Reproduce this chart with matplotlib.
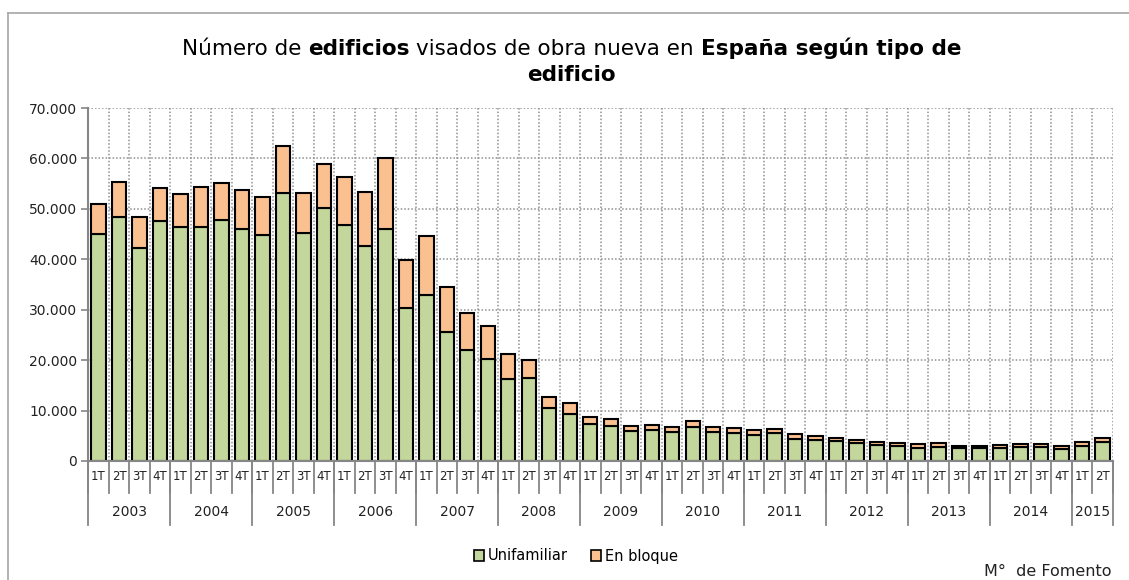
import matplotlib
matplotlib.use("Agg")
import matplotlib.pyplot as plt
import matplotlib.transforms as mtransforms
from matplotlib.lines import Line2D
from matplotlib.patches import Patch
from matplotlib.ticker import FuncFormatter
import numpy as np

# Datos: edificios visados de obra nueva por trimestre (2003 1T - 2015 2T)
anios = ["2003", "2004", "2005", "2006", "2007", "2008", "2009",
         "2010", "2011", "2012", "2013", "2014", "2015"]
trimestres_por_anio = [4, 4, 4, 4, 4, 4, 4, 4, 4, 4, 4, 4, 2]
trimestres = ["1T", "2T", "3T", "4T"]

unifamiliar = [45100, 48400, 42300, 47500, 46500, 46400, 47700, 46000,
               44800, 53200, 45200, 50100, 46800, 42600, 46000, 30400,
               33000, 25500, 22100, 20300, 16300, 16400, 10500, 9400,
               7400, 7000, 6000, 6200, 5800, 6700, 5800, 5600,
               5100, 5500, 4400, 4200, 4000, 3600, 3100, 3000,
               2500, 2800, 2500, 2500, 2600, 2800, 2800, 2400,
               3000, 3700]
en_bloque = [5900, 6900, 6100, 6700, 6500, 8000, 7400, 7700,
             7600, 9300, 8000, 8700, 9500, 10800, 14100, 9500,
             11600, 9100, 7300, 6500, 4900, 3700, 2200, 2200,
             1300, 1300, 1000, 900, 1000, 1200, 900, 1000,
             1000, 900, 1000, 800, 600, 600, 600, 600,
             800, 700, 500, 500, 600, 600, 600, 600,
             800, 900]

VERDE = "#C3D69B"
NARANJA = "#FAC090"
GRIS = "#868686"
W, H = 1129, 580

plt.rcParams["font.family"] = ["DejaVu Sans"]

fig = plt.figure(figsize=(W / 100, H / 100), dpi=100)
ax = fig.add_axes([88.3 / W, 1 - 461 / H, 1024.4 / W, 353 / H])

n = len(unifamiliar)
x = np.arange(n)
ax.bar(x, unifamiliar, width=0.7, color=VERDE, edgecolor="black", linewidth=1.5, zorder=3)
ax.bar(x, en_bloque, bottom=unifamiliar, width=0.7, color=NARANJA,
       edgecolor="black", linewidth=1.5, zorder=3)

ax.set_xlim(-0.5, n - 0.5)
ax.set_ylim(0, 70000)
ax.set_yticks(range(0, 70001, 10000))
ax.yaxis.set_major_formatter(FuncFormatter(lambda v, p: f"{int(v):,}".replace(",", ".")))
ax.tick_params(axis="y", length=5, width=1.2, color=GRIS, labelsize=10, pad=3, labelcolor="#222222")
ax.set_xticks([])
for s in ["top", "right"]:
    ax.spines[s].set_visible(False)
for s in ["left", "bottom"]:
    ax.spines[s].set_color(GRIS)
    ax.spines[s].set_linewidth(1.5)
    ax.spines[s].set_zorder(4)

# rejilla punteada
punteado = (0, (1, 1.3))
for v in range(10000, 70001, 10000):
    ax.axhline(v, color="#8f8f8f", linestyle=punteado, linewidth=1.1, zorder=1)
for b in np.arange(0.5, n, 1):
    ax.axvline(b, color="#8f8f8f", linestyle=punteado, linewidth=1.1, zorder=1)

# eje x de dos niveles
trans = mtransforms.blended_transform_factory(ax.transData, ax.transAxes)
for i in range(n):
    ax.text(i, -0.045, trimestres[i % 4], transform=trans, ha="center", va="center",
            fontsize=8.5, color="#222222")
for b in np.arange(-0.5, n, 1):
    ax.plot([b, b], [0, -0.0907], transform=trans, color=GRIS, lw=1.3, clip_on=False)
inicio = 0
for anio, k in zip(anios, trimestres_por_anio):
    ax.plot([inicio - 0.5, inicio - 0.5], [0, -0.181], transform=trans, color=GRIS, lw=1.3, clip_on=False)
    ax.text(inicio + (k - 1) / 2, -0.144, anio, transform=trans, ha="center", va="center",
            fontsize=10, color="#222222")
    inicio += k
ax.plot([n - 0.5, n - 0.5], [0, -0.181], transform=trans, color=GRIS, lw=1.3, clip_on=False)

# leyenda
manejadores = [Patch(facecolor=VERDE, edgecolor="black", linewidth=1.2),
               Patch(facecolor=NARANJA, edgecolor="black", linewidth=1.2)]
fig.legend(manejadores, ["Unifamiliar", "En bloque"], loc="center",
           bbox_to_anchor=(576 / W, 1 - 556 / H), ncol=2, frameon=False, fontsize=10.5,
           handlelength=0.7, handleheight=0.7, handletextpad=0.25, columnspacing=1.6)

fig.text(1111 / W, 1 - 571 / H, "M°  de Fomento", ha="right", va="center", fontsize=11.5, color="#222222")

# marco del grafico
fig.add_artist(Line2D([7.5 / W, 7.5 / W], [0, 1 - 13 / H], transform=fig.transFigure,
                      color="#a6a6a6", lw=1.2))
fig.add_artist(Line2D([7.5 / W, 1], [1 - 13 / H, 1 - 13 / H], transform=fig.transFigure,
                      color="#a6a6a6", lw=1.2))

# titulo con partes en negrita
fig.canvas.draw()
rend = fig.canvas.get_renderer()


def ancho(texto, peso, fs):
    t = fig.text(0, 0, texto, fontsize=fs, fontweight=peso)
    w = t.get_window_extent(rend).width
    t.remove()
    return w


def linea_titulo(partes, centro_x, base_y, fs):
    anchos = [ancho(t, p, fs) for t, p in partes]
    esp = ancho("n n", "normal", fs) - ancho("nn", "normal", fs)
    total = sum(anchos) + esp * (len(partes) - 1)
    xx = centro_x - total / 2
    for (t, p), w in zip(partes, anchos):
        fig.text(xx / W, 1 - base_y / H, t, fontsize=fs, fontweight=p, va="baseline",
                 ha="left", color="black")
        xx += w + esp


fs_titulo = 15.5
linea_titulo([("Número de", "normal"), ("edificios", "bold"),
              ("visados de obra nueva en", "normal"), ("España según tipo de", "bold")],
             571.5, 55, fs_titulo)
linea_titulo([("edificio", "bold")], 571.5, 81, fs_titulo)

fig.savefig("out.png", dpi=100)
